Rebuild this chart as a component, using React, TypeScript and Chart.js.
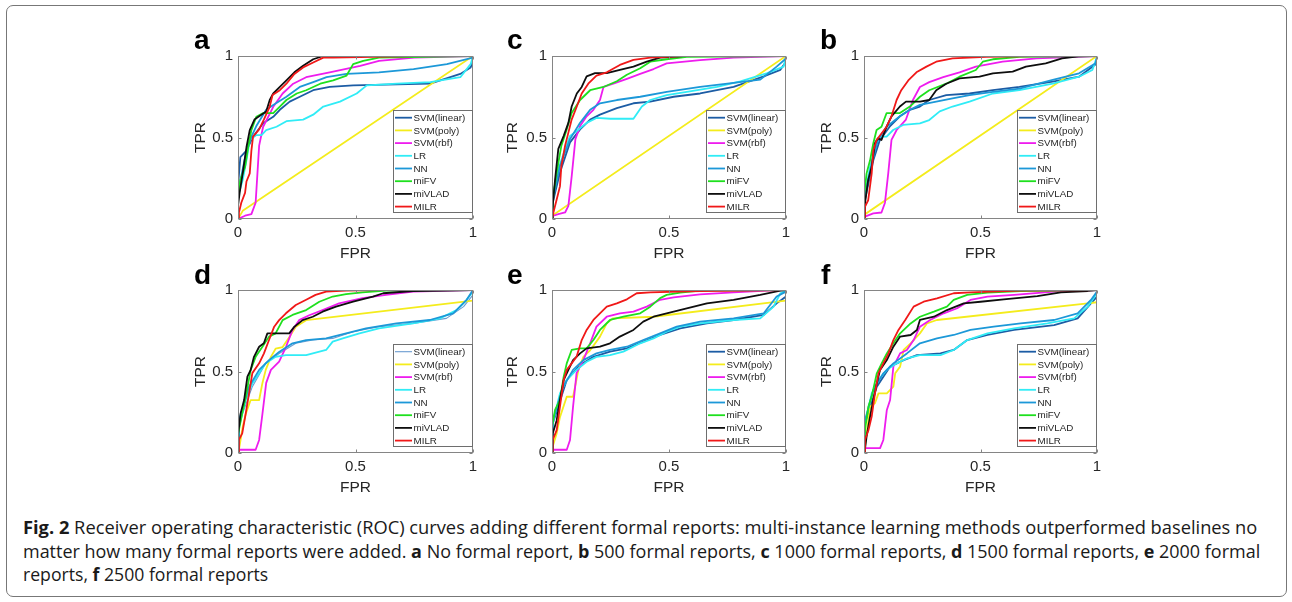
import React, { useEffect, useLayoutEffect, useRef } from "react";
import { Chart, registerables } from "chart.js";

Chart.register(...registerables);

type Pt = [number, number];

const seriesLabels = ["SVM(linear)", "SVM(poly)", "SVM(rbf)", "LR", "NN", "miFV", "miVLAD", "MILR"];
const xTickValues = [0, 0.5, 1];
const yTickValues = [0, 0.5, 1];
const xAxisTitle = "FPR";
const yAxisTitle = "TPR";

// ---- panel a (no formal report)
const aSvmLinear: Pt[] = [[0,0],[0,0.2],[0.01,0.38],[0.036,0.42],[0.064,0.505],[0.107,0.587],[0.15,0.627],[0.178,0.67],[0.22,0.72],[0.263,0.75],[0.32,0.79],[0.39,0.81],[0.49,0.82],[0.818,0.83],[0.946,0.89],[0.99,0.93],[1,0.97],[1,1]];
const aSvmPoly: Pt[] = [[0,0],[0.02,0.05],[1,1]];
const aSvmRbf: Pt[] = [[0,0],[0.03,0.02],[0.057,0.03],[0.075,0.1],[0.09,0.45],[0.1,0.52],[0.107,0.566],[0.15,0.688],[0.19,0.77],[0.235,0.83],[0.29,0.87],[0.39,0.9],[0.52,0.94],[0.6,0.97],[0.75,0.99],[1,1]];
const aLR: Pt[] = [[0,0],[0,0.14],[0.02,0.24],[0.036,0.36],[0.05,0.485],[0.078,0.515],[0.1,0.515],[0.12,0.545],[0.164,0.566],[0.206,0.6],[0.277,0.61],[0.32,0.64],[0.363,0.69],[0.434,0.72],[0.505,0.77],[0.548,0.82],[0.676,0.83],[0.818,0.84],[0.946,0.87],[0.99,0.95],[1,1]];
const aNN: Pt[] = [[0,0],[0,0.16],[0.036,0.42],[0.057,0.505],[0.078,0.57],[0.12,0.67],[0.15,0.7],[0.206,0.75],[0.263,0.81],[0.32,0.84],[0.377,0.87],[0.462,0.89],[0.6,0.9],[0.747,0.92],[0.889,0.95],[1,0.99],[1,1]];
const aMiFV: Pt[] = [[0,0],[0,0.12],[0.01,0.24],[0.03,0.32],[0.043,0.44],[0.057,0.545],[0.078,0.627],[0.107,0.65],[0.15,0.65],[0.178,0.69],[0.206,0.73],[0.25,0.77],[0.29,0.79],[0.35,0.83],[0.405,0.85],[0.462,0.88],[0.49,0.95],[0.533,0.97],[0.6,0.99],[1,1]];
const aMiVLAD: Pt[] = [[0,0],[0,0.08],[0.007,0.16],[0.02,0.28],[0.036,0.44],[0.05,0.545],[0.07,0.61],[0.09,0.63],[0.12,0.66],[0.135,0.73],[0.15,0.77],[0.178,0.81],[0.206,0.85],[0.24,0.9],[0.277,0.94],[0.32,0.98],[0.363,1],[1,1]];
const aMILR: Pt[] = [[0,0],[0.004,0.04],[0.014,0.1],[0.03,0.16],[0.036,0.23],[0.05,0.28],[0.057,0.42],[0.064,0.505],[0.09,0.55],[0.11,0.61],[0.135,0.69],[0.147,0.76],[0.178,0.79],[0.206,0.83],[0.24,0.89],[0.277,0.93],[0.32,0.96],[0.363,0.99],[0.405,0.99],[0.75,1],[1,1]];

// ---- panel c (1000 formal reports)
const cSvmLinear: Pt[] = [[0,0],[0.003,0.1],[0.034,0.285],[0.077,0.47],[0.12,0.55],[0.163,0.61],[0.205,0.64],[0.277,0.68],[0.348,0.71],[0.42,0.72],[0.52,0.75],[0.633,0.77],[0.776,0.81],[0.905,0.875],[0.976,0.915],[1,0.965],[1,1]];
const cSvmPoly: Pt[] = [[0,0],[0,0.02],[1,1]];
const cSvmRbf: Pt[] = [[0,0],[0.006,0.02],[0.027,0.03],[0.056,0.04],[0.07,0.08],[0.084,0.26],[0.1,0.49],[0.12,0.57],[0.148,0.63],[0.177,0.67],[0.205,0.73],[0.22,0.81],[0.262,0.83],[0.32,0.86],[0.377,0.89],[0.434,0.92],[0.49,0.955],[0.633,0.975],[0.776,0.99],[1,1]];
const cLR: Pt[] = [[0,0],[0.003,0.14],[0.027,0.305],[0.056,0.43],[0.077,0.51],[0.106,0.54],[0.148,0.59],[0.19,0.62],[0.25,0.615],[0.348,0.615],[0.384,0.69],[0.42,0.73],[0.49,0.76],[0.576,0.78],[0.705,0.81],[0.805,0.845],[0.92,0.895],[0.99,0.935],[1,1]];
const cNN: Pt[] = [[0,0],[0.003,0.12],[0.034,0.325],[0.077,0.49],[0.12,0.59],[0.163,0.67],[0.205,0.71],[0.277,0.73],[0.377,0.75],[0.49,0.78],[0.633,0.81],[0.776,0.835],[0.89,0.855],[0.96,0.935],[1,0.985],[1,1]];
const cMiFV: Pt[] = [[0,0],[0.003,0.12],[0.02,0.285],[0.04,0.45],[0.063,0.55],[0.084,0.65],[0.12,0.73],[0.163,0.79],[0.22,0.81],[0.277,0.845],[0.32,0.885],[0.377,0.925],[0.42,0.965],[0.49,0.98],[0.576,0.995],[1,1]];
const cMiVLAD: Pt[] = [[0,0],[0.003,0.08],[0.013,0.24],[0.027,0.43],[0.05,0.51],[0.07,0.59],[0.084,0.69],[0.106,0.77],[0.127,0.81],[0.148,0.875],[0.184,0.895],[0.234,0.895],[0.29,0.915],[0.348,0.935],[0.405,0.965],[0.462,0.99],[0.56,1],[1,1]];
const cMILR: Pt[] = [[0,0],[0.006,0.04],[0.02,0.12],[0.034,0.2],[0.04,0.325],[0.056,0.45],[0.07,0.53],[0.084,0.61],[0.106,0.69],[0.127,0.77],[0.155,0.83],[0.19,0.88],[0.234,0.9],[0.29,0.945],[0.348,0.976],[0.42,0.99],[0.56,1],[1,1]];

// ---- panel b (500 formal reports)
const bSvmLinear: Pt[] = [[0,0],[0.004,0.117],[0.04,0.36],[0.068,0.485],[0.11,0.566],[0.154,0.63],[0.197,0.67],[0.24,0.69],[0.28,0.73],[0.353,0.76],[0.453,0.77],[0.553,0.79],[0.667,0.81],[0.81,0.843],[0.923,0.873],[1,0.955],[1,1]];
const bSvmPoly: Pt[] = [[0,0],[0,0.025],[1,1]];
const bSvmRbf: Pt[] = [[0,0],[0.004,0.015],[0.04,0.035],[0.075,0.04],[0.09,0.1],[0.104,0.28],[0.118,0.485],[0.14,0.546],[0.18,0.61],[0.21,0.73],[0.24,0.81],[0.28,0.84],[0.34,0.87],[0.41,0.9],[0.48,0.935],[0.595,0.965],[0.74,0.985],[1,1]];
const bLR: Pt[] = [[0,0],[0.004,0.157],[0.026,0.32],[0.047,0.445],[0.068,0.505],[0.097,0.505],[0.125,0.546],[0.168,0.577],[0.24,0.587],[0.28,0.607],[0.325,0.66],[0.38,0.69],[0.453,0.72],[0.553,0.77],[0.667,0.79],[0.81,0.83],[0.923,0.873],[0.98,0.914],[1,0.995],[1,1]];
const bNN: Pt[] = [[0,0],[0.004,0.137],[0.033,0.34],[0.06,0.485],[0.097,0.566],[0.154,0.63],[0.197,0.67],[0.24,0.7],[0.31,0.72],[0.38,0.74],[0.453,0.76],[0.553,0.78],[0.667,0.8],[0.81,0.853],[0.923,0.894],[0.994,0.955],[1,0.995],[1,1]];
const bMiFV: Pt[] = [[0,0],[0,0.137],[0.011,0.28],[0.026,0.36],[0.04,0.465],[0.054,0.546],[0.075,0.566],[0.097,0.65],[0.154,0.65],[0.197,0.69],[0.24,0.75],[0.28,0.79],[0.353,0.83],[0.41,0.873],[0.48,0.914],[0.51,0.965],[0.553,0.98],[0.667,0.995],[1,1]];
const bMiVLAD: Pt[] = [[0,0],[0.004,0.095],[0.018,0.24],[0.033,0.32],[0.047,0.465],[0.06,0.495],[0.075,0.485],[0.097,0.566],[0.118,0.63],[0.154,0.69],[0.18,0.72],[0.24,0.72],[0.28,0.73],[0.31,0.79],[0.353,0.83],[0.41,0.863],[0.496,0.873],[0.553,0.894],[0.638,0.904],[0.695,0.935],[0.78,0.955],[0.85,0.985],[0.92,0.998],[1,1]];
const bMILR: Pt[] = [[0,0],[0.004,0.075],[0.018,0.115],[0.033,0.28],[0.04,0.42],[0.054,0.485],[0.075,0.525],[0.097,0.566],[0.118,0.63],[0.14,0.73],[0.16,0.79],[0.19,0.85],[0.225,0.9],[0.268,0.935],[0.31,0.965],[0.38,0.985],[0.524,0.995],[0.74,1],[1,1]];

// ---- panel d (1500 formal reports)
const dSvmLinear: Pt[] = [[0,0],[0.004,0.18],[0.061,0.407],[0.118,0.55],[0.175,0.61],[0.246,0.673],[0.318,0.693],[0.403,0.703],[0.49,0.744],[0.6,0.775],[0.745,0.795],[0.887,0.826],[0.96,0.898],[1,0.97],[1,1]];
const dSvmPoly: Pt[] = [[0,0],[0.004,0.02],[0.02,0.16],[0.033,0.24],[0.054,0.325],[0.09,0.325],[0.104,0.43],[0.118,0.51],[0.14,0.59],[0.16,0.64],[0.19,0.65],[0.218,0.71],[0.246,0.775],[0.29,0.815],[0.318,0.82],[1,0.935]];
const dSvmRbf: Pt[] = [[0,0],[0.005,0.02],[0.075,0.02],[0.09,0.08],[0.104,0.24],[0.12,0.43],[0.14,0.51],[0.175,0.56],[0.204,0.65],[0.232,0.755],[0.26,0.815],[0.303,0.845],[0.36,0.877],[0.43,0.918],[0.53,0.95],[0.63,0.97],[0.745,0.99],[1,1]];
const dLR: Pt[] = [[0,0],[0.004,0.16],[0.033,0.325],[0.061,0.427],[0.09,0.49],[0.118,0.55],[0.16,0.59],[0.204,0.6],[0.29,0.6],[0.375,0.632],[0.403,0.683],[0.446,0.703],[0.517,0.734],[0.6,0.765],[0.745,0.795],[0.86,0.826],[0.93,0.877],[0.973,0.94],[1,0.99],[1,1]];
const dNN: Pt[] = [[0,0],[0.004,0.2],[0.047,0.407],[0.09,0.51],[0.132,0.57],[0.175,0.62],[0.232,0.673],[0.29,0.693],[0.375,0.703],[0.46,0.734],[0.545,0.765],[0.674,0.795],[0.816,0.816],[0.916,0.857],[0.973,0.94],[1,1]];
const dMiFV: Pt[] = [[0,0],[0.001,0.12],[0.018,0.243],[0.033,0.346],[0.054,0.51],[0.075,0.59],[0.104,0.652],[0.132,0.714],[0.16,0.734],[0.19,0.815],[0.232,0.847],[0.29,0.877],[0.346,0.928],[0.403,0.96],[0.46,0.975],[0.53,0.986],[0.63,0.996],[1,1]];
const dMiVLAD: Pt[] = [[0,0],[0.001,0.12],[0.011,0.243],[0.026,0.325],[0.04,0.468],[0.054,0.51],[0.068,0.59],[0.09,0.652],[0.11,0.673],[0.125,0.734],[0.218,0.734],[0.24,0.775],[0.275,0.815],[0.318,0.836],[0.36,0.867],[0.417,0.898],[0.49,0.928],[0.574,0.96],[0.618,0.98],[0.745,0.994],[1,1]];
const dMILR: Pt[] = [[0,0],[0.004,0.08],[0.018,0.12],[0.033,0.243],[0.047,0.366],[0.061,0.49],[0.09,0.55],[0.11,0.61],[0.132,0.693],[0.154,0.775],[0.175,0.815],[0.204,0.857],[0.246,0.908],[0.29,0.94],[0.33,0.97],[0.375,0.99],[0.46,0.996],[0.6,1],[1,1]];

// ---- panel e (2000 formal reports)
const eSvmLinear: Pt[] = [[0,0],[0.003,0.18],[0.063,0.448],[0.12,0.54],[0.177,0.59],[0.248,0.622],[0.32,0.642],[0.39,0.683],[0.462,0.724],[0.548,0.765],[0.662,0.795],[0.776,0.816],[0.905,0.847],[0.96,0.918],[1,0.96],[1,1]];
const eSvmPoly: Pt[] = [[0,0],[0.003,0.04],[0.02,0.12],[0.034,0.22],[0.063,0.345],[0.09,0.345],[0.113,0.51],[0.134,0.59],[0.163,0.63],[0.205,0.714],[0.234,0.795],[0.26,0.826],[0.434,0.836],[1,0.935]];
const eSvmRbf: Pt[] = [[0,0],[0.006,0.02],[0.063,0.02],[0.077,0.08],[0.09,0.285],[0.105,0.49],[0.134,0.57],[0.163,0.673],[0.19,0.775],[0.234,0.836],[0.29,0.857],[0.348,0.867],[0.405,0.898],[0.462,0.94],[0.52,0.955],[0.633,0.973],[0.776,0.986],[0.92,0.996],[1,1]];
const eLR: Pt[] = [[0,0],[0.003,0.18],[0.034,0.366],[0.063,0.448],[0.105,0.51],[0.148,0.56],[0.19,0.59],[0.248,0.6],[0.305,0.622],[0.377,0.673],[0.434,0.703],[0.49,0.744],[0.548,0.775],[0.633,0.795],[0.776,0.816],[0.89,0.826],[0.947,0.898],[0.976,0.98],[1,0.996],[1,1]];
const eNN: Pt[] = [[0,0],[0.003,0.2],[0.048,0.407],[0.09,0.51],[0.134,0.57],[0.19,0.611],[0.248,0.632],[0.32,0.652],[0.39,0.693],[0.462,0.734],[0.533,0.775],[0.633,0.806],[0.776,0.826],[0.905,0.857],[0.96,0.96],[1,0.99],[1,1]];
const eMiFV: Pt[] = [[0,0],[0,0.16],[0.013,0.264],[0.034,0.325],[0.05,0.468],[0.063,0.55],[0.084,0.632],[0.12,0.642],[0.148,0.642],[0.177,0.693],[0.205,0.755],[0.248,0.816],[0.305,0.836],[0.377,0.857],[0.42,0.898],[0.462,0.95],[0.49,0.97],[0.548,0.984],[0.633,0.996],[1,1]];
const eMiVLAD: Pt[] = [[0,0],[0.003,0.12],[0.02,0.2],[0.034,0.325],[0.05,0.448],[0.07,0.51],[0.09,0.57],[0.12,0.611],[0.148,0.642],[0.205,0.652],[0.248,0.673],[0.29,0.714],[0.348,0.755],[0.39,0.806],[0.434,0.836],[0.49,0.857],[0.576,0.887],[0.662,0.918],[0.776,0.94],[0.89,0.97],[0.976,0.996],[1,1]];
const eMILR: Pt[] = [[0,0],[0.003,0.08],[0.02,0.14],[0.034,0.285],[0.05,0.448],[0.063,0.51],[0.084,0.55],[0.105,0.59],[0.127,0.693],[0.148,0.755],[0.177,0.816],[0.205,0.857],[0.234,0.898],[0.277,0.918],[0.32,0.943],[0.362,0.98],[0.42,0.986],[0.633,0.994],[1,1]];

// ---- panel f (2500 formal reports)
const fSvmLinear: Pt[] = [[0,0],[0.004,0.18],[0.055,0.407],[0.112,0.53],[0.17,0.57],[0.227,0.6],[0.328,0.611],[0.385,0.632],[0.443,0.693],[0.53,0.724],[0.644,0.755],[0.816,0.785],[0.917,0.826],[0.974,0.918],[1,0.96],[1,1]];
const fSvmPoly: Pt[] = [[0,0],[0.004,0.04],[0.019,0.2],[0.026,0.285],[0.047,0.305],[0.062,0.366],[0.098,0.366],[0.126,0.407],[0.134,0.489],[0.155,0.53],[0.17,0.632],[0.2,0.673],[0.24,0.734],[0.27,0.795],[0.313,0.816],[0.96,0.918],[1,0.925]];
const fSvmRbf: Pt[] = [[0,0],[0.004,0.03],[0.069,0.03],[0.083,0.08],[0.098,0.264],[0.112,0.325],[0.126,0.53],[0.155,0.611],[0.184,0.632],[0.213,0.693],[0.24,0.775],[0.284,0.816],[0.342,0.857],[0.4,0.888],[0.457,0.939],[0.53,0.959],[0.644,0.97],[0.816,0.99],[1,1]];
const fLR: Pt[] = [[0,0],[0.004,0.18],[0.033,0.366],[0.062,0.448],[0.098,0.51],[0.14,0.55],[0.184,0.58],[0.24,0.6],[0.328,0.6],[0.385,0.632],[0.443,0.693],[0.53,0.734],[0.644,0.765],[0.787,0.795],[0.902,0.826],[0.96,0.898],[1,0.98],[1,1]];
const fNN: Pt[] = [[0,0],[0.004,0.2],[0.04,0.387],[0.083,0.489],[0.126,0.55],[0.184,0.611],[0.24,0.673],[0.313,0.703],[0.385,0.724],[0.457,0.755],[0.557,0.775],[0.672,0.795],[0.816,0.816],[0.917,0.857],[0.974,0.939],[1,0.99],[1,1]];
const fMiFV: Pt[] = [[0,0],[0.004,0.14],[0.019,0.285],[0.033,0.346],[0.055,0.489],[0.076,0.55],[0.098,0.611],[0.126,0.673],[0.155,0.734],[0.2,0.795],[0.24,0.836],[0.3,0.867],[0.356,0.898],[0.385,0.939],[0.443,0.97],[0.53,0.984],[0.672,0.994],[1,1]];
const fMiVLAD: Pt[] = [[0,0],[0.004,0.02],[0.011,0.1],[0.026,0.223],[0.04,0.325],[0.055,0.427],[0.069,0.51],[0.098,0.57],[0.126,0.652],[0.155,0.714],[0.2,0.724],[0.227,0.755],[0.24,0.816],[0.3,0.836],[0.356,0.877],[0.428,0.918],[0.5,0.928],[0.6,0.943],[0.744,0.963],[0.845,0.986],[0.96,0.994],[1,1]];
const fMILR: Pt[] = [[0,0],[0.004,0.08],[0.019,0.14],[0.033,0.223],[0.047,0.366],[0.062,0.489],[0.083,0.55],[0.105,0.611],[0.126,0.693],[0.148,0.755],[0.177,0.816],[0.213,0.898],[0.256,0.928],[0.313,0.949],[0.385,0.98],[0.457,0.986],[0.672,0.996],[1,1]];

const captionLine1Parts: [string, string][] = [
  ["Fig. 2", " Receiver operating characteristic (ROC) curves adding different formal reports: multi-instance learning methods outperformed baselines no"],
];
const captionLine2Parts: [string, string][] = [
  ["", "matter how many formal reports were added. "],
  ["a", " No formal report, "],
  ["b", " 500 formal reports, "],
  ["c", " 1000 formal reports, "],
  ["d", " 1500 formal reports, "],
  ["e", " 2000 formal"],
];
const captionLine3Parts: [string, string][] = [
  ["", "reports, "],
  ["f", " 2500 formal reports"],
];

// ---- styles (not data)
const seriesColors = ["#1c5ca4", "#f4ec1c", "#ee1cee", "#30ecf6", "#1c98d8", "#1ee01e", "#0e0e0e", "#f01818"];
const FONT = '"Liberation Sans", Arial, Helvetica, sans-serif';
const CAP_FONT = '"Open Sans", "Noto Sans", sans-serif';

type PanelDef = {
  letter: string;
  curves: Pt[][];
  plotLeft: number;
  plotRight: number;
  plotTop: number;
  plotBottom: number;
  yTitleX: number;
  xTitleY: number;
  letterX: number;
  letterBase: number;
  linearColor?: string;
  linearWidth?: number;
};

const panels: PanelDef[] = [
  { letter: "a", curves: [aSvmLinear, aSvmPoly, aSvmRbf, aLR, aNN, aMiFV, aMiVLAD, aMILR], plotLeft: 238, plotRight: 473, plotTop: 56, plotBottom: 219, yTitleX: 200, xTitleY: 254, letterX: 194, letterBase: 50 },
  { letter: "c", curves: [cSvmLinear, cSvmPoly, cSvmRbf, cLR, cNN, cMiFV, cMiVLAD, cMILR], plotLeft: 552, plotRight: 786, plotTop: 56, plotBottom: 219, yTitleX: 512, xTitleY: 254, letterX: 507, letterBase: 50 },
  { letter: "b", curves: [bSvmLinear, bSvmPoly, bSvmRbf, bLR, bNN, bMiFV, bMiVLAD, bMILR], plotLeft: 864, plotRight: 1097, plotTop: 56, plotBottom: 219, yTitleX: 826, xTitleY: 254, letterX: 820, letterBase: 50 },
  { letter: "d", curves: [dSvmLinear, dSvmPoly, dSvmRbf, dLR, dNN, dMiFV, dMiVLAD, dMILR], plotLeft: 238, plotRight: 473, plotTop: 290, plotBottom: 453, yTitleX: 200, xTitleY: 488, letterX: 194, letterBase: 285, linearColor: "#6a9bd0", linearWidth: 1.1 },
  { letter: "e", curves: [eSvmLinear, eSvmPoly, eSvmRbf, eLR, eNN, eMiFV, eMiVLAD, eMILR], plotLeft: 552, plotRight: 786, plotTop: 290, plotBottom: 453, yTitleX: 512, xTitleY: 488, letterX: 507, letterBase: 285 },
  { letter: "f", curves: [fSvmLinear, fSvmPoly, fSvmRbf, fLR, fNN, fMiFV, fMiVLAD, fMILR], plotLeft: 864, plotRight: 1097, plotTop: 290, plotBottom: 453, yTitleX: 826, xTitleY: 488, letterX: 821, letterBase: 285 },
];

const rocFramePlugin = {
  id: "rocFrame",
  afterDatasetsDraw(chart: any) {
    const { ctx, chartArea: ca, scales } = chart;
    ctx.save();
    ctx.strokeStyle = "#858585";
    ctx.lineWidth = 1;
    const l = Math.round(ca.left) + 0.5;
    const r = Math.round(ca.right) - 0.5;
    const t = Math.round(ca.top) + 0.5;
    const b = Math.round(ca.bottom) - 0.5;
    ctx.strokeRect(l, t, r - l, b - t);
    const tl = 3;
    ctx.beginPath();
    scales.x.ticks.forEach((tk: any) => {
      const px = Math.round(scales.x.getPixelForValue(tk.value)) + 0.5;
      ctx.moveTo(px, b); ctx.lineTo(px, b - tl);
      ctx.moveTo(px, t); ctx.lineTo(px, t + tl);
    });
    scales.y.ticks.forEach((tk: any) => {
      const py = Math.round(scales.y.getPixelForValue(tk.value)) + 0.5;
      ctx.moveTo(l, py); ctx.lineTo(l + tl, py);
      ctx.moveTo(r, py); ctx.lineTo(r - tl, py);
    });
    ctx.stroke();
    // legend inside lower-right
    const bw = 80, bh = 103;
    const bx = Math.round(ca.right) - bw;
    const by = Math.round(ca.bottom) - 6 - bh;
    ctx.fillStyle = "#ffffff";
    ctx.fillRect(bx, by, bw, bh);
    ctx.strokeStyle = "#6e6e6e";
    ctx.lineWidth = 1;
    ctx.strokeRect(bx + 0.5, by + 0.5, bw - 1, bh - 1);
    ctx.font = `9.8px ${FONT}`;
    ctx.textBaseline = "middle";
    ctx.textAlign = "left";
    chart.data.datasets.forEach((ds: any, i: number) => {
      const cy = by + 7.7 + 12.7 * i;
      ctx.strokeStyle = ds.borderColor;
      ctx.lineWidth = ds.borderWidth;
      ctx.beginPath();
      ctx.moveTo(bx + 2, cy);
      ctx.lineTo(bx + 19, cy);
      ctx.stroke();
      ctx.fillStyle = "#262626";
      ctx.fillText(ds.label, bx + 20.5, cy + 0.5);
    });
    ctx.restore();
  },
};

const PAD_TOP = 26;
const PAD_RIGHT = 12;
const TITLE_SIZE = 15.5;
const TICK_SIZE = 15;
const LINE_W = 1.8;

function RocPanel({ p }: { p: PanelDef }) {
  const ref = useRef<HTMLCanvasElement>(null);
  const half = (TITLE_SIZE * 1.2) / 2;
  const left = Math.round(p.yTitleX - half);
  const top = p.plotTop - PAD_TOP;
  const yAxisW = p.plotLeft - left;
  const bottom = Math.round(p.xTitleY + half);
  const xAxisH = bottom - p.plotBottom;
  const width = yAxisW + (p.plotRight - p.plotLeft) + PAD_RIGHT;
  const height = bottom - top;

  useEffect(() => {
    if (!ref.current) return;
    const datasets = p.curves.map((curve, i) => ({
      label: seriesLabels[i],
      data: curve.map(([x, y]) => ({ x, y })),
      showLine: true,
      borderColor: i === 0 && p.linearColor ? p.linearColor : seriesColors[i],
      backgroundColor: seriesColors[i],
      borderWidth: i === 0 && p.linearWidth ? p.linearWidth : LINE_W,
      borderJoinStyle: "round",
      pointRadius: 0,
      pointHoverRadius: 0,
      fill: false,
      tension: 0,
      order: seriesLabels.length - 1 - i,
    }));
    const tickFont = { family: FONT, size: TICK_SIZE };
    const titleFont = { family: FONT, size: TITLE_SIZE, lineHeight: 1.2 };
    const chart = new Chart(ref.current, {
      type: "scatter",
      data: { datasets },
      options: {
        animation: false,
        responsive: false,
        maintainAspectRatio: false,
        devicePixelRatio: 1,
        events: [],
        layout: { padding: { top: PAD_TOP, right: PAD_RIGHT, left: 0, bottom: 0 } },
        plugins: { legend: { display: false }, tooltip: { enabled: false }, title: { display: false } },
        scales: {
          x: {
            type: "linear",
            min: 0,
            max: 1,
            afterBuildTicks: (s: any) => { s.ticks = xTickValues.map((value) => ({ value })); },
            afterFit: (s: any) => { s.height = xAxisH; },
            grid: { display: false, drawTicks: false },
            border: { display: false },
            ticks: { padding: 5, font: tickFont, color: "#262626", maxRotation: 0, callback: (v: any) => String(v) },
            title: { display: true, text: xAxisTitle, padding: 0, font: titleFont, color: "#262626" },
          },
          y: {
            type: "linear",
            min: 0,
            max: 1,
            afterBuildTicks: (s: any) => { s.ticks = yTickValues.map((value) => ({ value })); },
            afterFit: (s: any) => { s.width = yAxisW; },
            grid: { display: false, drawTicks: false },
            border: { display: false },
            ticks: { padding: 5, font: tickFont, color: "#262626", callback: (v: any) => String(v) },
            title: { display: true, text: yAxisTitle, padding: 0, font: titleFont, color: "#262626" },
          },
        },
      } as any,
      plugins: [rocFramePlugin],
    } as any);
    return () => chart.destroy();
  }, []);

  return (
    <>
      <canvas
        ref={ref}
        width={width}
        height={height}
        style={{ position: "absolute", left, top, width, height, display: "block" }}
      />
      <div
        style={{
          position: "absolute",
          left: p.letterX,
          top: p.letterBase - 23.7,
          fontFamily: FONT,
          fontWeight: 700,
          fontSize: 28,
          lineHeight: "28px",
          color: "#000",
        }}
      >
        {p.letter}
      </div>
    </>
  );
}

const captionLines = [captionLine1Parts, captionLine2Parts, captionLine3Parts];
const captionTargets = [1234, 1237, 245];

function Caption() {
  const refs = useRef<(HTMLDivElement | null)[]>([]);
  useLayoutEffect(() => {
    refs.current.forEach((el, i) => {
      if (!el) return;
      const w = el.scrollWidth;
      if (w > 0) el.style.transform = `scaleX(${captionTargets[i] / w})`;
    });
  }, []);
  return (
    <div
      style={{
        position: "absolute",
        left: 23,
        top: 516,
        fontFamily: CAP_FONT,
        fontSize: 18,
        lineHeight: "23.5px",
        color: "#1a1a1a",
      }}
    >
      {captionLines.map((parts, li) => (
        <div
          key={li}
          ref={(el) => { refs.current[li] = el; }}
          style={{ whiteSpace: "nowrap", width: "max-content", height: 23.5, transformOrigin: "0 0" }}
        >
          {parts.map(([bold, rest], i) => (
            <React.Fragment key={i}>
              {bold ? <b>{bold}</b> : null}
              {rest}
            </React.Fragment>
          ))}
        </div>
      ))}
    </div>
  );
}

export default function App() {
  return (
    <div style={{ position: "absolute", left: 0, top: 0, width: 1292, height: 602, background: "#fff", overflow: "hidden" }}>
      <div
        style={{
          position: "absolute",
          left: 6,
          top: 5,
          width: 1281,
          height: 592,
          border: "1.5px solid #777",
          borderRadius: 7,
          boxSizing: "border-box",
        }}
      />
      {panels.map((p) => (
        <RocPanel key={p.letter} p={p} />
      ))}
      <Caption />
    </div>
  );
}
